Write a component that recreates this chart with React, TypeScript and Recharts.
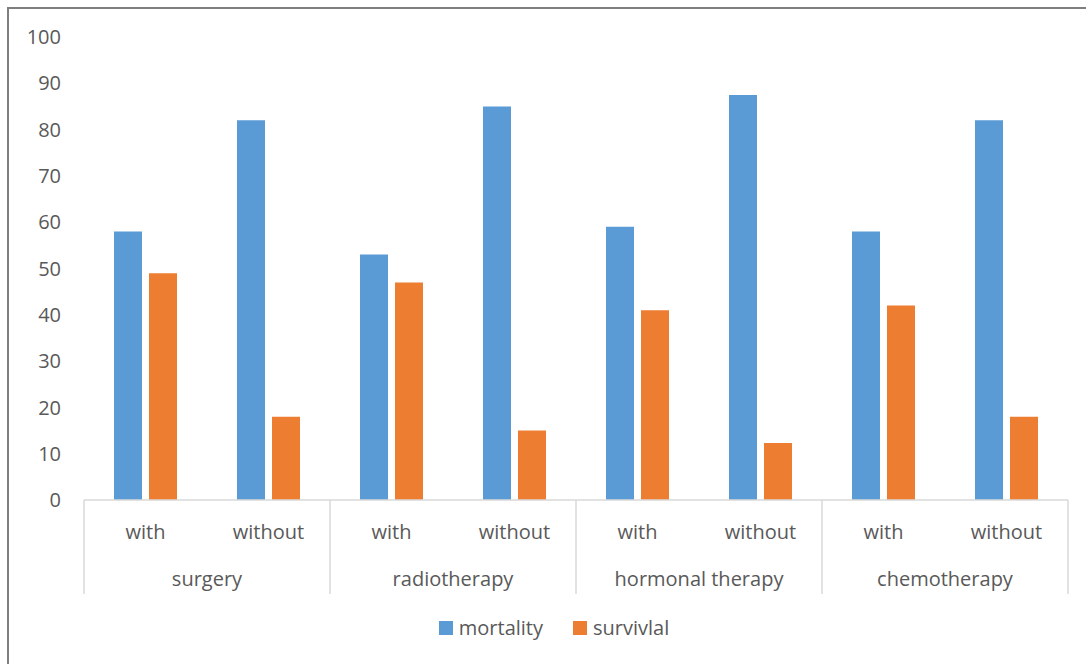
import { Bar, BarChart, Legend, XAxis, YAxis } from "recharts";

const groups = ["surgery", "radiotherapy", "hormonal therapy", "chemotherapy"];
const subLabels = ["with", "without"];
const mortality = [58, 82, 53, 85, 59, 87.5, 58, 82];
const survival = [49, 18, 47, 15, 41, 12.3, 42, 18];
const yTicks = [0, 10, 20, 30, 40, 50, 60, 70, 80, 90, 100];

const data = mortality.map((m, i) => ({
	name: `${groups[Math.floor(i / 2)]}-${subLabels[i % 2]}`,
	sub: subLabels[i % 2],
	group: groups[Math.floor(i / 2)],
	mortality: m,
	survival: survival[i],
}));

const WIDTH = 1086;
const HEIGHT = 664;
const MARGIN = { top: 37, right: 18, bottom: 0, left: 24 };
const Y_WIDTH = 60;
const PLOT_W = WIDTH - MARGIN.left - MARGIN.right - Y_WIDTH;
const STEP = PLOT_W / data.length;
const FONT = "Open Sans, sans-serif";
const FONT_SIZE = 20;
const TEXT = "#595959";
const LINE = "#d9d9d9";

function GroupTick(props: any) {
	const { x, y, index } = props;
	const item = data[index];
	const isFirst = index % 2 === 0;
	const isLast = index === data.length - 1;
	// tick y sits 8px below the axis line
	const top = y - 8;
	return (
		<g>
			<text
				x={x}
				y={y + 31}
				textAnchor="middle"
				fill={TEXT}
				fontSize={FONT_SIZE}
				fontFamily={FONT}
			>
				{item.sub}
			</text>
			{isFirst && (
				<>
					<text
						x={x + STEP / 2}
						y={y + 78}
						textAnchor="middle"
						fill={TEXT}
						fontSize={FONT_SIZE}
						fontFamily={FONT}
					>
						{item.group}
					</text>
					<line
						x1={x - STEP / 2}
						x2={x - STEP / 2}
						y1={top}
						y2={top + 94}
						stroke={LINE}
						strokeWidth={1.5}
					/>
				</>
			)}
			{isLast && (
				<line
					x1={x + STEP / 2}
					x2={x + STEP / 2}
					y1={top}
					y2={top + 94}
					stroke={LINE}
					strokeWidth={1.5}
				/>
			)}
		</g>
	);
}

function LegendContent(props: any) {
	const { payload } = props;
	return (
		<div
			style={{
				display: "flex",
				justifyContent: "center",
				gap: 30,
				paddingLeft: 16,
				fontFamily: FONT,
				fontSize: FONT_SIZE,
				color: TEXT,
			}}
		>
			{(payload || []).map((p: any) => (
				<div
					key={p.value}
					style={{ display: "flex", alignItems: "center", gap: 6 }}
				>
					<span
						style={{
							display: "inline-block",
							width: 14,
							height: 14,
							background: p.color,
						}}
					/>
					<span>{p.value}</span>
				</div>
			))}
		</div>
	);
}

export default function App() {
	return (
		<div
			style={{
				position: "absolute",
				left: 0,
				top: 0,
				width: WIDTH,
				height: HEIGHT,
				background: "#fff",
			}}
		>
			<div
				style={{
					position: "absolute",
					left: 7,
					top: 7,
					width: WIDTH - 7,
					height: HEIGHT - 7,
					borderTop: "2px solid #7f7f7f",
					borderLeft: "2px solid #7f7f7f",
					boxSizing: "border-box",
				}}
			/>
			<BarChart
				width={WIDTH}
				height={HEIGHT}
				data={data}
				margin={MARGIN}
				barSize={28}
				barGap={7}
			>
				<XAxis
					dataKey="name"
					interval={0}
					height={94}
					axisLine={{ stroke: LINE, strokeWidth: 1.5 }}
					tickLine={false}
					tick={<GroupTick />}
				/>
				<YAxis
					width={Y_WIDTH}
					domain={[0, 100]}
					ticks={yTicks}
					axisLine={false}
					tickLine={false}
					tick={{ fill: TEXT, fontSize: FONT_SIZE, fontFamily: FONT }}
					tickMargin={17}
				/>
				<Legend
					verticalAlign="bottom"
					height={70}
					wrapperStyle={{
						height: 70,
						paddingTop: 20,
						boxSizing: "border-box",
					}}
					content={<LegendContent />}
				/>
				<Bar
					dataKey="mortality"
					name="mortality"
					fill="#5b9bd5"
					isAnimationActive={false}
				/>
				<Bar
					dataKey="survival"
					name="survivlal"
					fill="#ed7d31"
					isAnimationActive={false}
				/>
			</BarChart>
		</div>
	);
}
